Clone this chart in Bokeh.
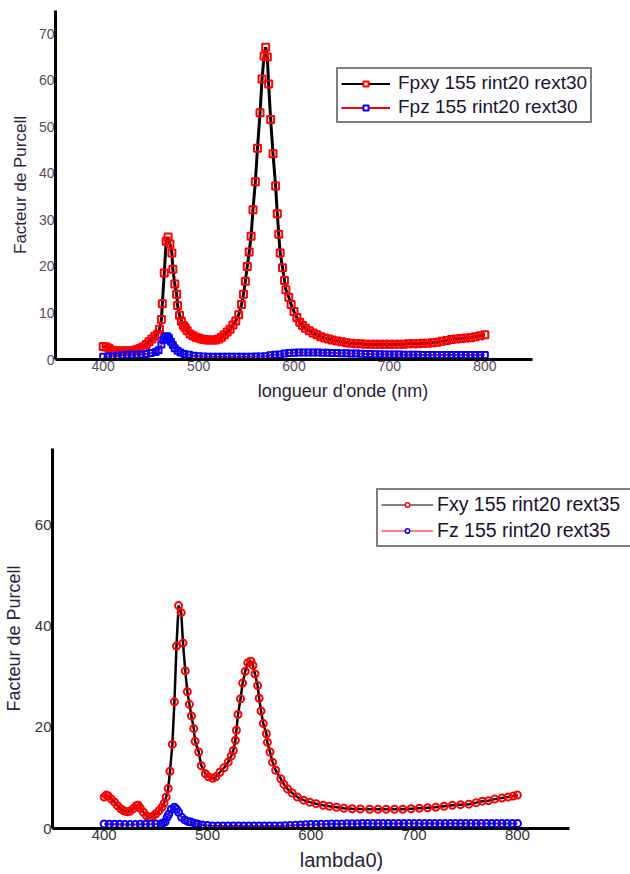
from bokeh.plotting import figure
from bokeh.models import Range1d, Legend, LegendItem, FixedTicker
from bokeh.embed import file_html
from bokeh.resources import INLINE

# ---------------- top chart data ----------------
lam_top = [400, 403, 406, 409, 412, 415, 418, 421, 424, 427,
           430, 433, 436, 439, 442, 445, 448, 451, 454, 457,
           459, 461, 462, 464, 466, 468, 470, 472, 473, 475,
           477, 478, 480, 482, 484, 486, 488, 491, 494, 497,
           500, 503, 506, 509, 512, 515, 518, 521, 524, 527,
           530, 533, 536, 539, 542, 545, 547, 549, 551, 553,
           555, 557, 559.5, 561.7, 564.4, 566.5, 568.6, 570.3, 572, 573.4,
           575.5, 578, 580.7, 582.5, 584, 585.5, 588, 590, 591.5, 594.5,
           597, 600, 603, 606, 609, 612, 616, 620, 624, 628,
           632, 636, 640, 645, 650, 655, 660, 665, 670, 675,
           680, 685, 690, 695, 700, 705, 710, 715, 720, 725,
           730, 735, 740, 745, 750, 755, 760, 765, 770, 775,
           780, 785, 790, 795, 800]
fpxy_top = [2.8, 2.7, 2.4, 2.0, 1.9, 1.8, 1.8, 1.8, 1.8, 1.9,
            1.9, 2.0, 2.2, 2.4, 2.7, 3.2, 3.8, 4.4, 5.0, 5.4,
            6.5, 8.6, 12.0, 18.6, 25.4, 26.3, 24.8, 22.9, 19.4, 16.2,
            14.0, 11.6, 9.5, 8.2, 7.3, 6.8, 6.2, 5.5, 5.1, 4.8,
            4.6, 4.4, 4.3, 4.2, 4.2, 4.2, 4.2, 4.4, 4.8, 5.3,
            5.9, 6.5, 7.4, 8.3, 9.6, 11.8, 14.0, 16.8, 20.0, 23.1,
            26.5, 32.2, 38.2, 45.4, 53.0, 60.3, 65.2, 67.1, 65.0, 59.2,
            51.6, 44.2, 37.3, 31.3, 26.9, 22.9, 19.7, 17.0, 15.0, 13.4,
            11.8, 10.3, 9.0, 8.0, 7.3, 6.7, 6.2, 5.7, 5.3, 4.9,
            4.6, 4.4, 4.2, 4.0, 3.8, 3.6, 3.5, 3.4, 3.4, 3.3,
            3.3, 3.3, 3.3, 3.3, 3.3, 3.3, 3.3, 3.3, 3.4, 3.4,
            3.4, 3.5, 3.5, 3.6, 3.7, 3.9, 4.1, 4.3, 4.4, 4.5,
            4.6, 4.7, 4.9, 5.1, 5.3]

lam_top_z = [400, 405, 410, 415, 420, 425, 430, 435, 440, 445, 450, 455,
             458, 461, 463, 465, 467, 469, 471, 473, 475, 478, 481, 485,
             490, 495, 500, 505, 510, 515, 520, 525, 530, 535,
             540, 545, 550, 555, 560, 565, 570, 575, 580, 585,
             590, 595, 600, 605, 610, 615, 620, 625, 630, 635,
             640, 645, 650, 655, 660, 665, 670, 675, 680, 685,
             690, 695, 700, 705, 710, 715, 720, 725, 730, 735,
             740, 745, 750, 755, 760, 765, 770, 775, 780, 785,
             790, 795, 800]
fpz_top = [0.6, 0.65, 0.7, 0.8, 0.9, 1.0, 1.0, 1.0, 1.1, 1.2, 1.4, 1.6,
           2.0, 3.2, 4.2, 4.9, 5.0, 4.6, 3.8, 3.1, 2.4, 1.9, 1.5, 1.2,
           1.0, 0.8, 0.7, 0.65, 0.6, 0.6, 0.6, 0.6, 0.6, 0.6,
           0.6, 0.6, 0.6, 0.6, 0.65, 0.65, 0.7, 0.9, 1.0, 1.1,
           1.3, 1.4, 1.45, 1.5, 1.5, 1.5, 1.5, 1.5, 1.45, 1.45,
           1.4, 1.4, 1.35, 1.35, 1.3, 1.3, 1.25, 1.2, 1.2, 1.15,
           1.15, 1.1, 1.1, 1.05, 1.05, 1.0, 1.0, 1.0, 1.0, 0.95,
           0.95, 0.95, 0.95, 0.95, 0.95, 0.95, 0.95, 0.95, 0.95, 0.95,
           0.95, 0.95, 0.95]

# ---------------- bottom chart data ----------------
lam_bot = [400, 402, 404, 407, 410, 413, 416, 419, 422, 425,
           428, 431, 433, 435, 438, 441, 444, 447, 450, 453,
           456, 458, 460, 462, 463.7, 466, 468, 470, 472, 474.6,
           476.3, 478.5, 480.5, 482.5, 484.5, 486.7, 488, 491.5, 494, 498,
           501, 505, 508, 512, 516, 520, 523, 525, 527, 528,
           529.5, 532, 534, 536.5, 539, 542, 544, 546, 548.5, 550,
           551.8, 554, 557, 558, 560.5, 563, 566, 571, 574, 577.5,
           582, 587, 593, 599, 605, 612, 618, 625, 632, 640,
           648, 657, 665, 673, 681, 689, 697, 705, 713, 721,
           729, 737, 745, 753, 760, 766, 772, 778, 785, 791,
           796, 800]
fxy_bot = [6.2, 6.6, 6.4, 5.8, 5.2, 4.5, 3.9, 3.5, 3.3, 3.4,
           3.9, 4.5, 4.6, 4.0, 3.2, 2.5, 2.2, 2.4, 2.9, 3.5,
           4.2, 5.0, 6.2, 7.9, 11.3, 16.6, 25.0, 36.0, 44.0, 42.6,
           36.6, 31.1, 27.0, 24.5, 22.2, 19.7, 17.2, 15.1, 12.4, 10.8,
           10.2, 9.9, 10.2, 11.1, 12.0, 13.1, 14.3, 15.4, 17.4, 19.4,
           22.5, 25.6, 28.7, 31.0, 32.7, 33.0, 32.2, 30.5, 28.2, 25.7,
           23.2, 20.7, 18.7, 17.0, 15.1, 13.1, 11.5, 9.8, 8.7, 7.8,
           7.0, 6.2, 5.6, 5.2, 4.9, 4.6, 4.4, 4.2, 4.0, 3.9,
           3.85, 3.8, 3.8, 3.8, 3.8, 3.8, 3.9, 4.0, 4.1, 4.2,
           4.4, 4.6, 4.7, 4.8, 5.1, 5.4, 5.5, 5.8, 6.0, 6.2,
           6.4, 6.6]

lam_bot_z = [400, 405, 410, 415, 420, 425, 430, 435, 440, 445, 450, 455,
             457, 459, 461, 462.5, 465, 468, 470, 472, 475, 478, 481, 484,
             488, 491, 495,
             500, 505, 510, 515, 520, 525, 530, 535, 540, 545,
             550, 555, 560, 565, 570, 575, 580, 585, 590, 595,
             600, 605, 610, 615, 620, 625, 630, 635, 640, 645,
             650, 655, 660, 665, 670, 675, 680, 685, 690, 695,
             700, 705, 710, 715, 720, 725, 730, 735, 740, 745,
             750, 755, 760, 765, 770, 775, 780, 785, 790, 795, 800]
fz_bot = [0.9, 0.85, 0.85, 0.85, 0.8, 0.8, 0.8, 0.85, 0.85, 0.85, 0.9, 0.9,
          1.1, 1.3, 2.2, 2.8, 3.8, 4.2, 3.8, 3.2, 2.2, 1.7, 1.4, 1.3,
          1.0, 0.85, 0.7,
          0.6, 0.5, 0.5, 0.5, 0.5, 0.5, 0.5, 0.5, 0.5, 0.5,
          0.5, 0.5, 0.5, 0.5, 0.5, 0.55, 0.6, 0.65, 0.7, 0.75,
          0.8, 0.8, 0.85, 0.85, 0.9, 0.9, 0.9, 0.95, 0.95, 0.95,
          1.0, 1.0, 1.0, 1.0, 1.0, 1.0, 1.0, 1.0, 1.0, 1.0,
          1.0, 1.0, 1.0, 1.0, 1.0, 1.0, 1.0, 1.0, 1.0, 1.0,
          1.0, 1.0, 1.0, 1.0, 1.0, 1.0, 1.0, 1.0, 1.0, 1.0, 1.0]

x_ticks = [400, 500, 600, 700, 800]
y_ticks_top = [0, 10, 20, 30, 40, 50, 60, 70]
y_ticks_bot = [0, 20, 40, 60]

FONT = "Liberation Sans"
NAN = [float("nan")]  # legend-only proxy glyphs draw nothing in the plot


def style(p, yticks, xlabel, ylabel, tick_color, tick_size, xl_size, yl_size,
          xl_stand, yl_stand, bounds):
    p.xaxis.ticker = FixedTicker(ticks=x_ticks)
    p.yaxis.ticker = FixedTicker(ticks=yticks)
    p.xaxis.bounds = bounds
    for ax in (p.xaxis, p.yaxis):
        ax.axis_line_width = 3
        ax.axis_line_color = "black"
        ax.major_tick_line_color = None
        ax.minor_tick_line_color = None
        ax.major_tick_out = 0
        ax.major_tick_in = 0
        ax.minor_tick_out = 0
        ax.minor_tick_in = 0
        ax.major_label_text_font = FONT
        ax.major_label_text_font_size = tick_size
        ax.major_label_text_color = tick_color
        ax.major_label_standoff = 1
        ax.axis_label_text_font = FONT
        ax.axis_label_text_font_style = "normal"
        ax.axis_label_text_color = "#2a2238"
    p.xaxis.axis_label = xlabel
    p.yaxis.axis_label = ylabel
    p.xaxis.axis_label_text_font_size = xl_size
    p.yaxis.axis_label_text_font_size = yl_size
    p.xaxis.axis_label_standoff = xl_stand
    p.yaxis.axis_label_standoff = yl_stand
    p.xgrid.grid_line_color = None
    p.ygrid.grid_line_color = None
    p.outline_line_color = None
    p.background_fill_color = "white"
    p.border_fill_color = "white"


def style_legend(leg, size, gw, gh, lh, standoff, pad, spacing):
    leg.label_text_font = FONT
    leg.label_text_font_size = size
    leg.label_text_color = "#1a1030"
    leg.glyph_width = gw
    leg.glyph_height = gh
    leg.label_height = lh
    leg.label_standoff = standoff
    leg.padding = pad
    leg.spacing = spacing
    leg.margin = 0
    leg.border_line_color = "black"
    leg.border_line_width = 2
    leg.background_fill_alpha = 0


# ---------------- top figure ----------------
p1 = figure(width=630, height=420, output_backend="svg", toolbar_location=None,
            x_range=Range1d(350, 952.7), y_range=Range1d(0, 75),
            min_border_left=55, min_border_right=0, min_border_top=10, min_border_bottom=61)
style(p1, y_ticks_top, "longueur d'onde (nm)", "Facteur de Purcell", "#5a4a66", "14px",
      "18px", "17px", 7, 6, (350, 850))

p1.line(lam_top, fpxy_top, line_color="black", line_width=3)
p1.scatter(lam_top, fpxy_top, marker="square", size=7, fill_alpha=0,
           line_color="#ff0000", line_width=2)
p1.line(lam_top_z, fpz_top, line_color="#ff0000", line_width=2)
p1.scatter(lam_top_z, fpz_top, marker="square", size=6, fill_alpha=0,
           line_color="#0000ff", line_width=2)

k1 = p1.line(NAN, NAN, line_color="black", line_width=2)
k1m = p1.scatter(NAN, NAN, marker="square", size=5, fill_color="white",
                 line_color="#ff0000", line_width=2)
k2 = p1.line(NAN, NAN, line_color="#ff0000", line_width=2)
k2m = p1.scatter(NAN, NAN, marker="square", size=5, fill_color="white",
                 line_color="#0000ff", line_width=2)

leg1 = Legend(items=[LegendItem(label="Fpxy 155 rint20 rext30", renderers=[k1, k1m]),
                     LegendItem(label="Fpz 155 rint20 rext30", renderers=[k2, k2m])],
              location=(281, 236))
style_legend(leg1, "19px", 49, 13, 20, 8, 3, 2)
p1.add_layout(leg1)

# ---------------- bottom figure ----------------
p2 = figure(width=630, height=454, output_backend="svg", toolbar_location=None,
            x_range=Range1d(350, 909.4), y_range=Range1d(0, 75),
            min_border_left=46, min_border_right=0, min_border_top=28, min_border_bottom=46)
style(p2, y_ticks_bot, "lambda0)", "Facteur de Purcell", "#333333", "15px",
      "20px", "18px", 6, 8, (350, 850))

p2.line(lam_bot, fxy_bot, line_color="black", line_width=2.5)
p2.scatter(lam_bot, fxy_bot, marker="circle", size=7, fill_alpha=0,
           line_color="#ff0000", line_width=2)
p2.line(lam_bot_z, fz_bot, line_color="#ff0000", line_width=2)
p2.scatter(lam_bot_z, fz_bot, marker="circle", size=7, fill_alpha=0,
           line_color="#0000ff", line_width=2)

k3 = p2.line(NAN, NAN, line_color="black", line_width=1)
k3m = p2.scatter(NAN, NAN, marker="circle", size=5, fill_color="white",
                 line_color="#ff0000", line_width=1.5)
k4 = p2.line(NAN, NAN, line_color="#ff0000", line_width=1)
k4m = p2.scatter(NAN, NAN, marker="circle", size=5, fill_color="white",
                 line_color="#0000ff", line_width=1.5)

leg2 = Legend(items=[LegendItem(label="Fxy 155 rint20 rext35", renderers=[k3, k3m]),
                     LegendItem(label="Fz 155 rint20 rext35", renderers=[k4, k4m])],
              location=(324, 281))
style_legend(leg2, "19.5px", 52, 11, 22, 4, 3, 3)
leg2.label_width = 200
p2.add_layout(leg2)

open("out.html", "w").write(file_html([p1, p2], INLINE))
